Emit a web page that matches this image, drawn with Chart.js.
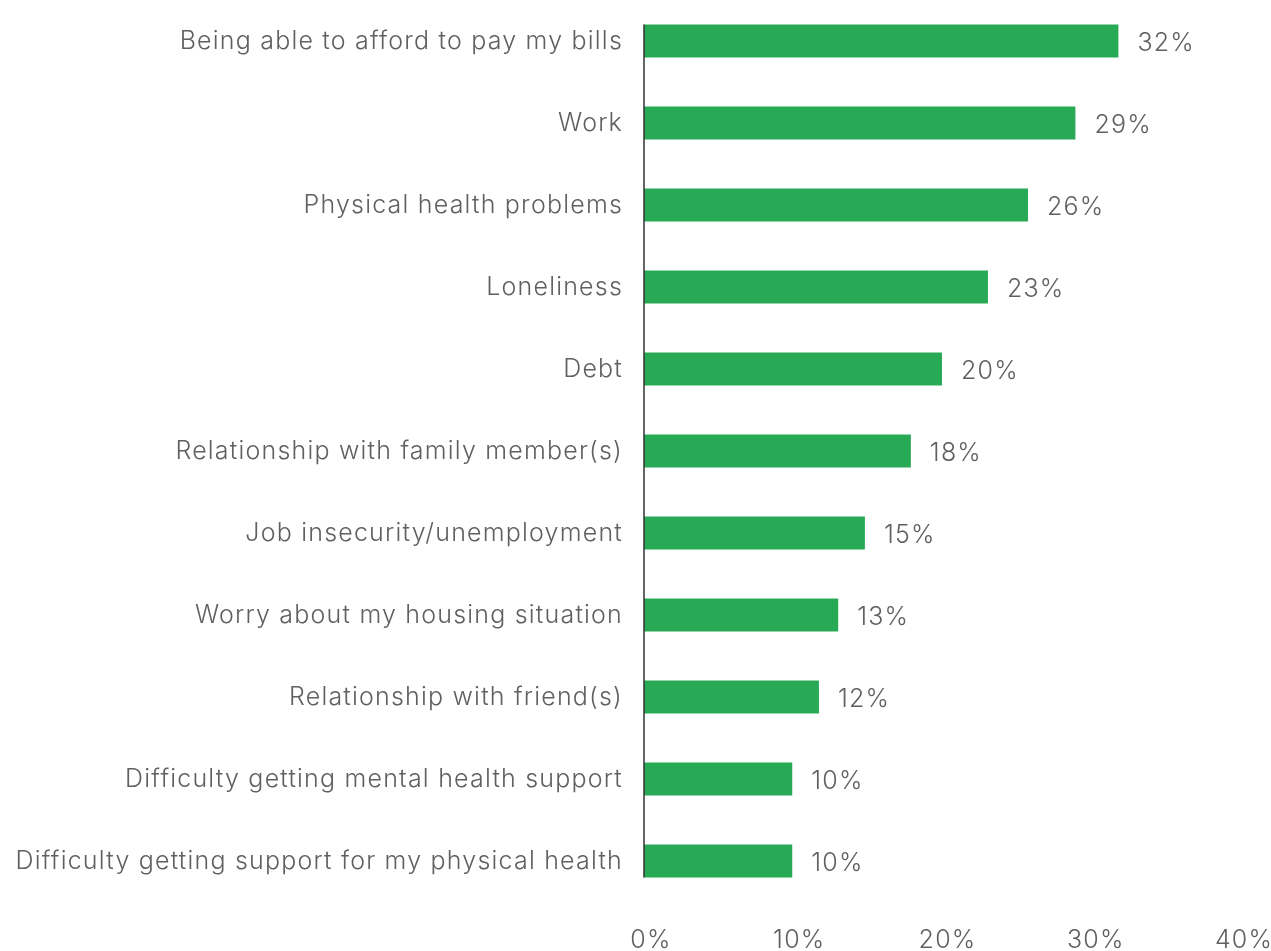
<!DOCTYPE html>
<html>
<head>
<meta charset="utf-8">
<script src="https://cdn.jsdelivr.net/npm/chart.js@4"></script>
<style>
  html, body { margin: 0; padding: 0; background: #fff; }
  #wrap { width: 1271px; height: 951px; }
</style>
</head>
<body>
<div id="wrap"><canvas id="chart" width="1271" height="951"></canvas></div>
<script>
const CATEGORIES = [
  'Being able to afford to pay my bills',
  'Work',
  'Physical health problems',
  'Loneliness',
  'Debt',
  'Relationship with family member(s)',
  'Job insecurity/unemployment',
  'Worry about my housing situation',
  'Relationship with friend(s)',
  'Difficulty getting mental health support',
  'Difficulty getting support for my physical health'
];
const VALUES = [32, 29.1, 25.9, 23.2, 20.1, 18, 14.9, 13.1, 11.8, 10, 10];
const VALUE_LABELS = ['32%', '29%', '26%', '23%', '20%', '18%', '15%', '13%', '12%', '10%', '10%'];
const X_TICKS = [0, 10, 20, 30, 40];

const TEXT = '#606060';
const FONT = 'Inter, Roboto, sans-serif';
const SPACING = '1.2px';

// the original font is a bit wider than Inter, so space the letters out
const spacing = {
  id: 'spacing',
  beforeUpdate(chart) { chart.ctx.letterSpacing = SPACING; },
  beforeDraw(chart) { chart.ctx.letterSpacing = SPACING; }
};

// value labels right of each bar
const valueLabels = {
  id: 'valueLabels',
  afterDatasetsDraw(chart) {
    const ctx = chart.ctx;
    const meta = chart.getDatasetMeta(0);
    ctx.save();
    ctx.font = '300 25px ' + FONT;
    ctx.fillStyle = TEXT;
    ctx.textAlign = 'left';
    ctx.textBaseline = 'middle';
    meta.data.forEach((bar, i) => {
      ctx.fillText(VALUE_LABELS[i], bar.x + 19, bar.y + 2);
    });
    ctx.restore();
  }
};

// axis line just over the bars
const axisLine = {
  id: 'axisLine',
  afterDatasetsDraw(chart) {
    const meta = chart.getDatasetMeta(0);
    const first = meta.data[0], last = meta.data[meta.data.length - 1];
    const x = chart.scales.x.getPixelForValue(0);
    const ctx = chart.ctx;
    ctx.save();
    ctx.strokeStyle = '#333';
    ctx.lineWidth = 1.5;
    ctx.beginPath();
    ctx.moveTo(x, first.y - first.height / 2);
    ctx.lineTo(x, last.y + last.height / 2);
    ctx.stroke();
    ctx.restore();
  }
};

new Chart(document.getElementById('chart'), {
  type: 'bar',
  data: {
    labels: CATEGORIES,
    datasets: [{
      data: VALUES,
      backgroundColor: '#28a955',
      borderWidth: 0,
      barPercentage: 0.4,
      categoryPercentage: 1
    }]
  },
  options: {
    indexAxis: 'y',
    responsive: false,
    animation: false,
    layout: { padding: { top: -7, right: 0, bottom: 0, left: 0 } },
    plugins: { legend: { display: false }, tooltip: { enabled: false } },
    scales: {
      x: {
        min: 0, max: 40,
        afterBuildTicks(scale) { scale.ticks = X_TICKS.map(v => ({ value: v })); },
        afterFit(scale) {
          scale.height = 49;
          scale.paddingLeft = 0;
          scale.paddingRight = 34;
        },
        grid: { display: false, drawTicks: false },
        border: { display: false },
        ticks: {
          color: TEXT,
          padding: 23,
          labelOffset: 7,
          font: { family: FONT, size: 25, weight: '300' },
          callback: v => v + '%',
          maxRotation: 0
        }
      },
      y: {
        afterFit(scale) {
          scale.width = 644;
          scale.paddingTop = -7;
          scale.paddingBottom = 0;
        },
        grid: { display: false, drawTicks: false },
        border: { display: false },
        ticks: {
          color: TEXT,
          padding: 21,
          font: { family: FONT, size: 25, weight: '300' }
        }
      }
    }
  },
  plugins: [spacing, valueLabels, axisLine]
});
</script>
</body>
</html>
